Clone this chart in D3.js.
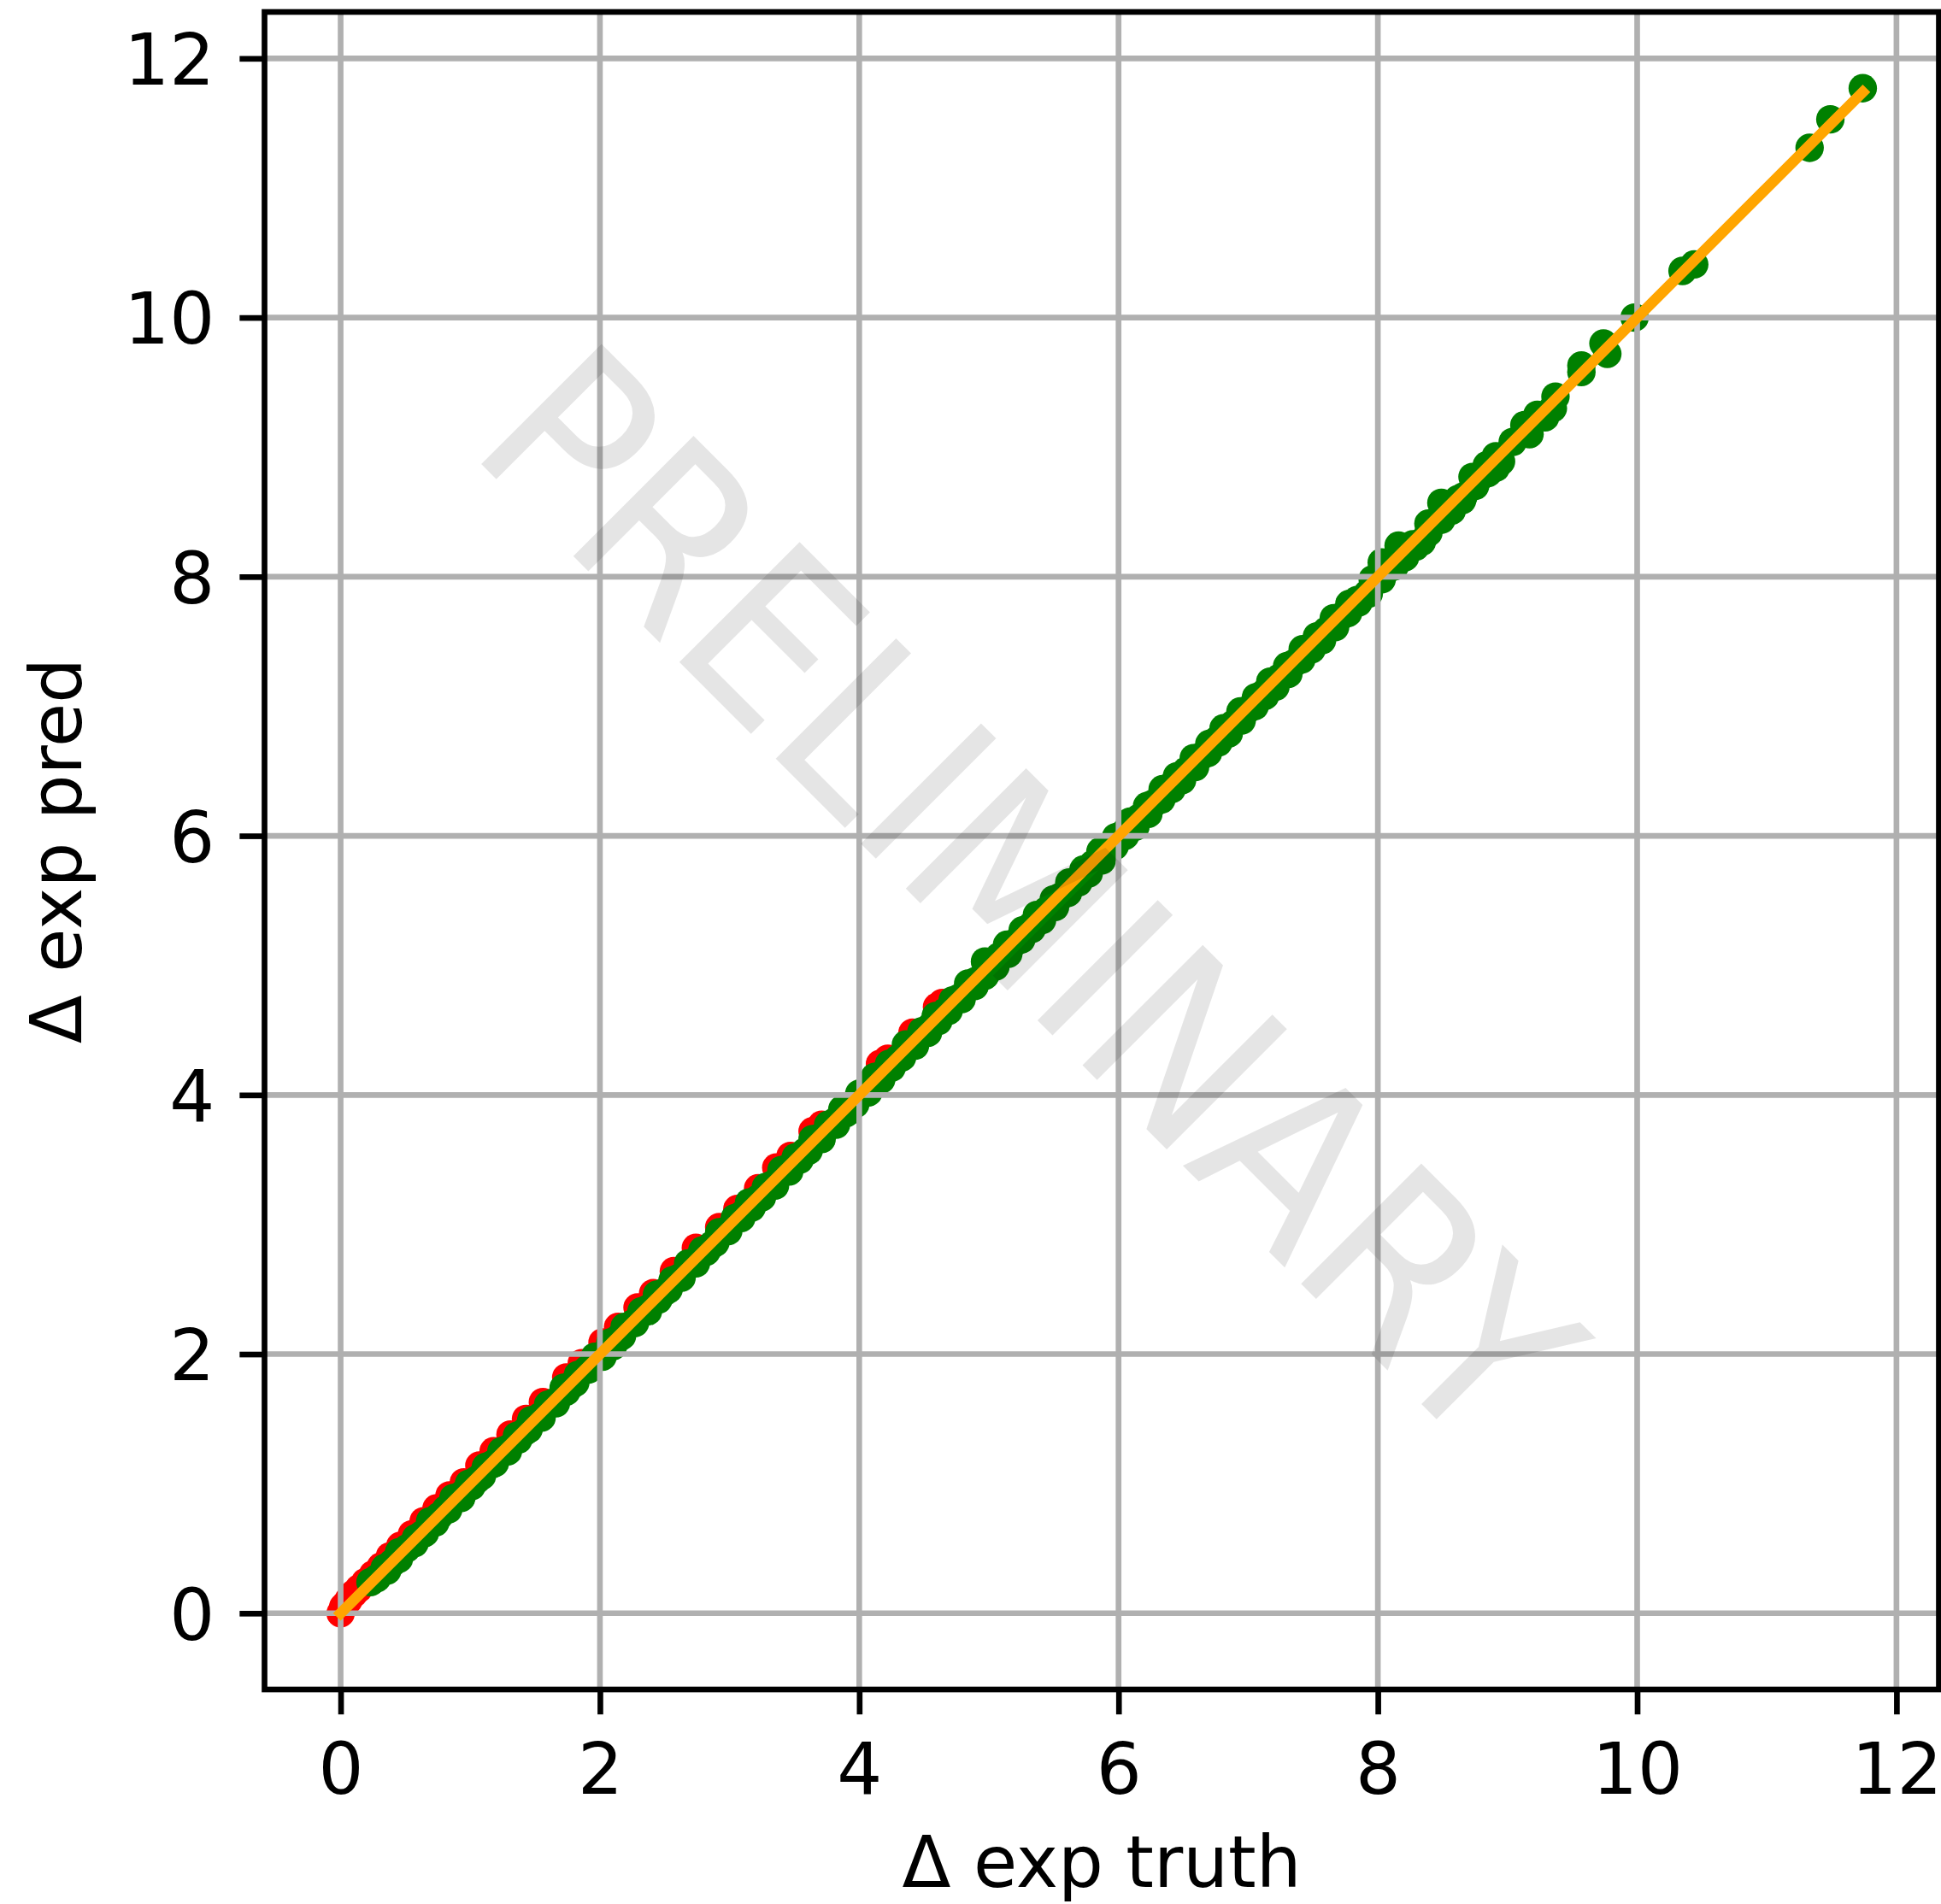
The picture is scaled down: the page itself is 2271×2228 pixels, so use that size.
<!DOCTYPE html>
<html>
<head>
<meta charset="utf-8">
<script src="https://cdn.jsdelivr.net/npm/d3@7"></script>
<style>
  html, body { margin: 0; padding: 0; background: #ffffff; }
  svg { display: block; }
</style>
</head>
<body>
<svg id="chart"></svg>
<script>
// Predicted vs. true Δ exp, one entry per sample
const greenTruth = [0.23,0.28,0.34,0.40,0.45,0.51,0.58,0.63,0.69,0.76,0.81,0.87,0.94,0.99,1.05,1.12,1.17,1.24,1.29,1.36,
  1.42,1.47,1.54,1.60,1.65,1.72,1.78,1.83,1.90,1.96,2.01,2.08,2.14,2.19,2.26,2.32,2.37,2.44,2.50,2.56,
  2.61,2.68,2.74,2.79,2.86,2.92,2.97,3.04,3.10,3.15,3.22,3.28,3.33,3.40,3.46,3.51,3.58,3.64,3.69,3.76,
  3.82,3.87,3.94,4.00,4.05,4.12,4.18,4.23,4.30,4.36,4.41,4.48,4.54,4.59,4.66,4.72,4.77,4.84,4.90,4.97,
  5.02,5.08,5.14,5.19,5.26,5.32,5.37,5.44,5.50,5.55,5.62,5.68,5.73,5.80,5.86,5.91,5.98,6.04,6.09,6.16,
  6.22,6.27,6.34,6.40,6.45,6.52,6.58,6.63,6.70,6.76,6.81,6.88,6.94,6.99,7.06,7.12,7.17,7.24,7.30,7.35,
  7.42,7.48,7.53,7.60,7.66,7.71,7.78,7.84,7.92,7.96,8.03,8.08,8.16,8.20,8.27,8.34,8.39,8.45,8.49,8.55,
  8.62,8.66,8.73,8.79,8.84,8.91,8.91,9.04,9.13,9.17,9.23,9.29,9.35,9.37,9.57,9.57,9.74,9.77,9.98,10.35,
  10.44,11.33,11.49,11.74,
  0.36,0.57,0.73,0.93,1.09,1.29,1.45,1.66,1.81,2.02,2.17,2.37,2.53,2.74,2.89,3.09,3.25,3.46,3.61,3.82,
  3.97,4.17,4.33,4.53,4.69,4.89,5.05,5.25,5.41,5.61,5.77,5.97,6.13,6.33,6.49,6.69,6.85,7.05,7.21,7.41,
  7.57,7.77,7.93,8.13,8.29,8.49,8.65,8.85,
  0.45,0.65,0.83,1.01,1.19,1.37,1.55,1.74,1.91,2.10,2.27,2.45,2.63,2.82,2.99,3.17,3.35,3.54,3.71,3.90,
  4.07,4.25,4.43,4.61,4.79,4.97,5.15,5.33,5.51,5.69,5.87,6.05,6.23,6.41,6.59,6.77,6.95,7.13,7.31,7.49,
  7.67,7.85,8.03,8.21,8.39,8.57,8.75,8.95];
const greenPred = [0.24,0.27,0.35,0.39,0.47,0.50,0.58,0.61,0.71,0.75,0.80,0.89,0.92,1.00,1.03,1.13,1.15,1.25,1.27,1.37,
  1.40,1.49,1.52,1.61,1.63,1.74,1.76,1.84,1.88,1.98,1.99,2.09,2.12,2.21,2.24,2.33,2.35,2.46,2.48,2.57,
  2.59,2.70,2.72,2.80,2.84,2.94,2.95,3.05,3.08,3.17,3.20,3.29,3.31,3.42,3.44,3.52,3.56,3.66,3.67,3.77,
  3.80,3.89,3.92,4.01,4.03,4.14,4.16,4.24,4.28,4.39,4.39,4.49,4.52,4.61,4.64,4.73,4.75,4.86,4.88,5.03,
  5.01,5.07,5.16,5.17,5.27,5.30,5.39,5.42,5.51,5.53,5.64,5.66,5.74,5.78,5.88,5.89,5.99,6.02,6.11,6.14,
  6.23,6.25,6.36,6.38,6.46,6.50,6.60,6.61,6.71,6.74,6.83,6.86,6.96,6.97,7.07,7.10,7.19,7.22,7.31,7.33,
  7.44,7.46,7.54,7.58,7.68,7.69,7.79,7.82,7.87,7.98,8.11,8.06,8.24,8.18,8.25,8.27,8.41,8.43,8.57,8.53,
  8.60,8.62,8.77,8.77,8.86,8.93,8.84,9.04,9.17,9.10,9.25,9.23,9.30,9.39,9.58,9.63,9.80,9.72,10.00,10.36,
  10.41,11.31,11.53,11.77,
  0.33,0.54,0.70,0.89,1.06,1.25,1.42,1.62,1.78,1.98,2.14,2.33,2.50,2.70,2.86,3.05,3.21,3.41,3.57,3.77,
  3.93,4.12,4.29,4.48,4.65,4.84,4.99,5.20,5.35,5.56,5.71,5.92,6.07,6.28,6.43,6.64,6.79,7.00,7.15,7.36,
  7.51,7.72,7.87,8.08,8.23,8.44,8.59,8.80,
  0.42,0.62,0.80,0.98,1.16,1.34,1.51,1.71,1.88,2.06,2.24,2.42,2.59,2.79,2.95,3.13,3.30,3.50,3.66,3.86,
  4.02,4.21,4.38,4.57,4.74,4.92,5.09,5.28,5.45,5.64,5.81,6.00,6.17,6.36,6.53,6.72,6.89,7.08,7.25,7.44,
  7.61,7.80,7.98,8.15,8.34,8.51,8.70,8.89];
const redTruth = [0.00,0.02,0.06,0.10,0.14,0.19,0.25,0.31,0.38,0.46,0.55,0.64,0.74,0.84,0.95,1.07,1.18,1.31,1.43,1.56,
  1.74,1.86,2.02,2.14,2.29,2.41,2.57,2.74,2.92,3.06,3.22,3.36,3.47,3.64,3.71,4.16,4.22,4.41,4.60,4.64];
const redPred = [0.00,0.05,0.10,0.15,0.19,0.24,0.30,0.36,0.44,0.52,0.61,0.71,0.81,0.91,1.01,1.14,1.25,1.38,1.50,1.63,
  1.82,1.93,2.09,2.21,2.36,2.47,2.64,2.82,2.98,3.12,3.28,3.44,3.53,3.72,3.77,4.24,4.28,4.48,4.68,4.71];

const xTicks = [0, 2, 4, 6, 8, 10, 12];
const yTicks = [0, 2, 4, 6, 8, 10, 12];
const xLabel = "Δ exp truth";
const yLabel = "Δ exp pred";
const stamp = "PRELIMINARY";

// ---- figure geometry (px); 1 pt = 8.33 px at this resolution ----
const W = 2271, H = 2228;
const PT = 8.33;
const frame = { left: 309.5, right: 2268.5, top: 14, bottom: 1977 };
const FONT = "'DejaVu Sans', 'Liberation Sans', sans-serif";
const fontPx = 10 * PT;
const lw = 0.8 * PT;
const tickLen = 3.5 * PT;

const svg = d3.select("#chart").attr("width", W).attr("height", H)
  .attr("viewBox", `0 0 ${W} ${H}`);
svg.append("rect").attr("width", W).attr("height", H).attr("fill", "#ffffff");

// Auto-limits with 5% margin on each side, like the plotting default
function padded([lo, hi]) { const r = hi - lo; return [lo - 0.05 * r, hi + 0.05 * r]; }
const allTruth = redTruth.concat(greenTruth);
const lineEnds = d3.extent(allTruth);
const x = d3.scaleLinear().domain(padded(d3.extent(allTruth))).range([frame.left, frame.right]);
const y = d3.scaleLinear().domain(padded(d3.extent(redPred.concat(greenPred, lineEnds))))
  .range([frame.bottom, frame.top]);

const plot = svg.append("g");
const clipId = "plotClip";
svg.append("clipPath").attr("id", clipId).append("rect")
  .attr("x", frame.left).attr("y", frame.top)
  .attr("width", frame.right - frame.left).attr("height", frame.bottom - frame.top);

const markR = 2 * PT;
const pts = plot.append("g").attr("clip-path", `url(#${clipId})`);

// Points where prediction overshoots, then the main population on top
pts.selectAll("circle.over").data(d3.zip(redTruth, redPred)).join("circle")
  .attr("class", "over")
  .attr("cx", d => x(d[0])).attr("cy", d => y(d[1])).attr("r", markR)
  .attr("fill", "#ff0000");
pts.selectAll("circle.main").data(d3.zip(greenTruth, greenPred)).join("circle")
  .attr("class", "main")
  .attr("cx", d => x(d[0])).attr("cy", d => y(d[1])).attr("r", markR)
  .attr("fill", "#008000");

// Grid lines sit above the scatter but beneath the reference line
const grid = plot.append("g").attr("stroke", "#b0b0b0").attr("stroke-width", lw);
grid.selectAll("line.gx").data(xTicks).join("line").attr("class", "gx")
  .attr("x1", d => x(d)).attr("x2", d => x(d))
  .attr("y1", frame.top).attr("y2", frame.bottom);
grid.selectAll("line.gy").data(yTicks).join("line").attr("class", "gy")
  .attr("y1", d => y(d)).attr("y2", d => y(d))
  .attr("x1", frame.left).attr("x2", frame.right);

// Identity line y = x across the range of true values
plot.append("path")
  .datum(lineEnds)
  .attr("d", d3.line().x(d => x(d)).y(d => y(d)))
  .attr("fill", "none").attr("stroke", "#ffa500")
  .attr("stroke-width", 1.5 * PT).attr("stroke-linecap", "square")
  .attr("clip-path", `url(#${clipId})`);

// Axes
const xAxis = d3.axisBottom(x).tickValues(xTicks).tickFormat(d3.format("d"))
  .tickSize(tickLen).tickPadding(0);
const yAxis = d3.axisLeft(y).tickValues(yTicks).tickFormat(d3.format("d"))
  .tickSize(tickLen).tickPadding(0);

const gx = svg.append("g").attr("transform", `translate(0,${frame.bottom})`).call(xAxis);
const gy = svg.append("g").attr("transform", `translate(${frame.left},0)`).call(yAxis);
[gx, gy].forEach(g => {
  g.select(".domain").remove();
  g.selectAll(".tick line").attr("stroke", "#000").attr("stroke-width", lw);
  g.selectAll(".tick text").attr("fill", "#000")
    .style("font-family", FONT).style("font-size", fontPx + "px");
});
gx.selectAll(".tick text").attr("y", tickLen + 3.5 * PT).attr("dy", "0.76em");
gy.selectAll(".tick text").attr("x", -(tickLen + 3.5 * PT)).attr("dy", "0.365em");

// Frame
svg.append("rect")
  .attr("x", frame.left).attr("y", frame.top)
  .attr("width", frame.right - frame.left).attr("height", frame.bottom - frame.top)
  .attr("fill", "none").attr("stroke", "#000").attr("stroke-width", lw);

// Axis titles
svg.append("text")
  .attr("x", (frame.left + frame.right) / 2).attr("y", 2208)
  .attr("text-anchor", "middle")
  .style("font-family", FONT).style("font-size", fontPx + "px")
  .text(xLabel);
svg.append("text")
  .attr("transform", `translate(95,${(frame.top + frame.bottom) / 2}) rotate(-90)`)
  .attr("text-anchor", "middle")
  .style("font-family", FONT).style("font-size", fontPx + "px")
  .text(yLabel);

// Diagonal draft stamp across the plot
const pw = frame.right - frame.left, ph = frame.bottom - frame.top;
svg.append("g")
  .attr("transform", `translate(${frame.left + 0.4219 * pw},${frame.top + 0.5614 * ph}) rotate(45) scale(0.925,1)`)
  .append("text")
  .attr("text-anchor", "middle")
  .style("font-family", FONT).style("font-size", "273px")
  .attr("fill", "#000").attr("fill-opacity", 0.1)
  .text(stamp);
</script>
</body>
</html>
